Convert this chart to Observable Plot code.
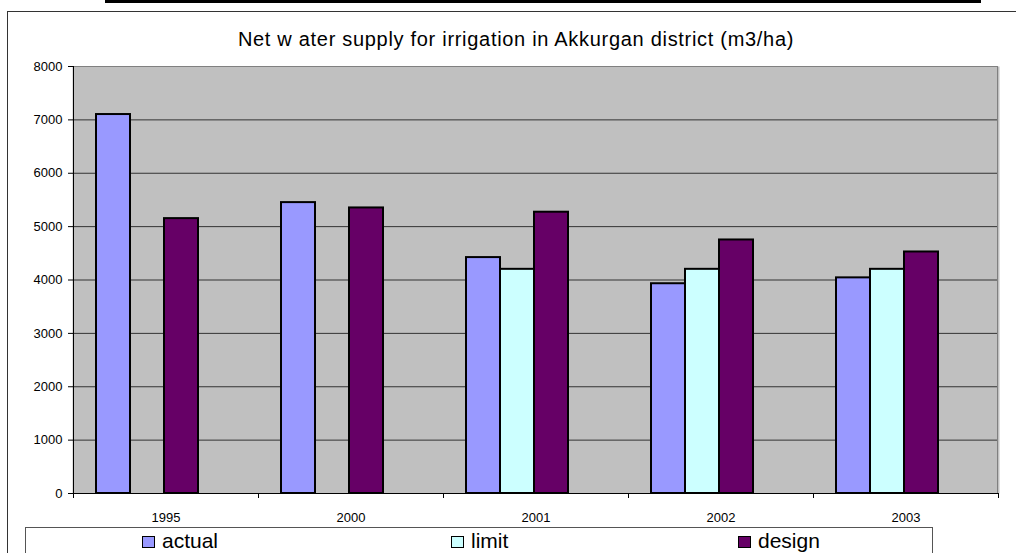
<!DOCTYPE html>
<html>
<head>
<meta charset="utf-8">
<script src="https://cdn.jsdelivr.net/npm/d3@7"></script>
<script src="https://cdn.jsdelivr.net/npm/@observablehq/plot@0.6"></script>
<style>
  html, body { margin: 0; padding: 0; background: #fff; }
  #wrap { position: relative; width: 1016px; height: 553px; overflow: hidden; font-family: "Liberation Sans", Arial, sans-serif; }
  #topbar { position: absolute; left: 105px; top: 0; width: 876px; height: 3px; background: #000; }
  #outer { position: absolute; left: 7px; top: 11px; width: 1100px; height: 700px; border: 1px solid #333; box-sizing: border-box; }
  #title { position: absolute; left: 0; top: 28px; width: 1032px; text-align: center; font-size: 20px; letter-spacing: 0.7px; color: #000; line-height: 23px; white-space: pre; }
  #chart { position: absolute; left: 0; top: 0; }
  #legend { position: absolute; left: 25px; top: 527px; width: 908px; height: 60px; border: 1px solid #555; box-sizing: border-box; background: #fff; }
  .item { position: absolute; top: 1px; font-size: 21px; line-height: 24px; white-space: nowrap; }
  .sw { display: inline-block; width: 11px; height: 10px; border: 1px solid #000; margin-right: 7px; vertical-align: 0; }
</style>
</head>
<body>
<div id="wrap">
  <div id="topbar"></div>
  <div id="outer"></div>
  <div id="chart"></div>
  <div id="title">Net w ater supply for irrigation in Akkurgan district (m3/ha)</div>
  <div id="legend"></div>
</div>
<script>
const years = ["1995", "2000", "2001", "2002", "2003"];
const series = ["actual", "limit", "design"];
const actual = [7100, 5450, 4420, 3930, 4040];
const limit = [null, null, 4200, 4200, 4200];
const design = [5150, 5350, 5270, 4750, 4525];
const colors = ["#9999ff", "#ccffff", "#660066"];
const yTicks = [0, 1000, 2000, 3000, 4000, 5000, 6000, 7000, 8000];
const gridTicks = [1000, 2000, 3000, 4000, 5000, 6000, 7000];

const valuesBySeries = { actual, limit, design };
const data = years.flatMap((yr, i) =>
  series.map(s => ({ year: yr, series: s, value: valuesBySeries[s][i] }))
).filter(d => d.value != null);

const chart = Plot.plot({
  width: 1016,
  height: 527,
  marginLeft: 72,
  marginRight: 17,
  marginTop: 66,
  marginBottom: 34,
  style: { fontFamily: "Liberation Sans, Arial, sans-serif", fontSize: "13px", background: "transparent", color: "#000" },
  fx: { domain: years, paddingInner: 0, paddingOuter: 0, label: null, axis: null },
  x: { domain: series, paddingInner: 0, paddingOuter: 1.21, align: 0.274, axis: null },
  y: { domain: [0, 8000], axis: null },
  color: { domain: series, range: colors },
  marks: [
    Plot.frame({ fill: "#c0c0c0", stroke: "none", insetLeft: -1, insetRight: -1 }),
    Plot.gridY(gridTicks, { stroke: "#333", strokeOpacity: 1, strokeWidth: 1 }),
    Plot.barY(data, { fx: "year", x: "series", y: "value", fill: "series", stroke: "#000", strokeWidth: 2 }),
    Plot.axisY({ ticks: yTicks, tickSize: 5, tickPadding: 6, fontSize: 13, label: null, tickFormat: d => String(d) }),
    Plot.axisFx({ anchor: "bottom", tickSize: 0, tickPadding: 19, fontSize: 13, label: null })
  ]
});
document.getElementById("chart").appendChild(chart);

// plot-area border and category separator ticks, from the scales
const fxS = chart.scale("fx");
const yS = chart.scale("y");
const bw = fxS.bandwidth;
const xL = fxS.apply(years[0]);
const xR = fxS.apply(years[years.length - 1]) + bw;
const yB = yS.apply(0);
const yT = yS.apply(8000);
const g = d3.select(chart).append("g");
g.append("line").attr("x1", xL).attr("x2", xR).attr("y1", yT + 0.5).attr("y2", yT + 0.5).attr("stroke", "#808080");
g.append("line").attr("x1", xR - 0.5).attr("x2", xR - 0.5).attr("y1", yT).attr("y2", yB).attr("stroke", "#808080");
g.append("line").attr("x1", xL + 0.5).attr("x2", xL + 0.5).attr("y1", yT).attr("y2", yB + 0.5).attr("stroke", "#000");
g.append("line").attr("x1", xL).attr("x2", xR).attr("y1", yB + 0.5).attr("y2", yB + 0.5).attr("stroke", "#000");
const bounds = years.map(y => fxS.apply(y)).concat([xR]);
g.selectAll("line.sep").data(bounds).join("line")
  .attr("class", "sep")
  .attr("x1", d => Math.round(d) + 0.5).attr("x2", d => Math.round(d) + 0.5)
  .attr("y1", yB).attr("y2", yB + 5).attr("stroke", "#000");

// legend
const legendX = [116, 425, 712];
const legend = d3.select("#legend");
series.forEach((s, i) => {
  const it = legend.append("div").attr("class", "item").style("left", legendX[i] + "px");
  it.append("span").attr("class", "sw").style("background", colors[i]);
  it.append("span").text(s);
});
</script>
</body>
</html>
